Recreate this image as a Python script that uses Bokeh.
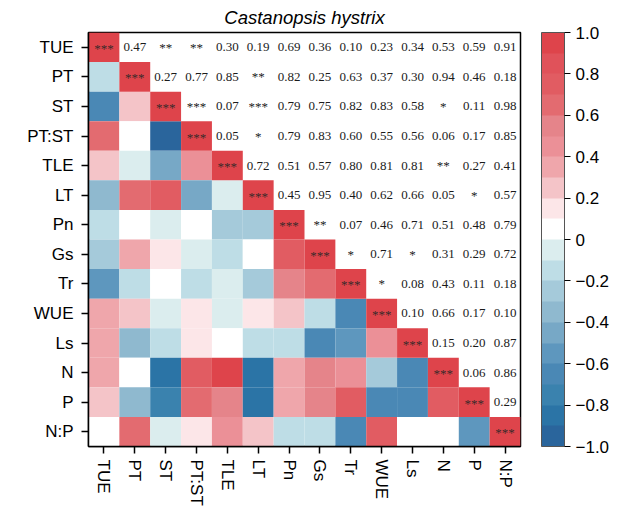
from bokeh.plotting import figure
from bokeh.models import ColumnDataSource, LinearColorMapper, ColorBar, FixedTicker, FactorRange, AllLabels
from bokeh.core.properties import value
from bokeh.embed import file_html
from bokeh.resources import INLINE

variables = ["TUE", "PT", "ST", "PT:ST", "TLE", "LT", "Pn", "Gs", "Tr", "WUE", "Ls", "N", "P", "N:P"]

# lower triangle correlation coefficients (row i, columns 0..i-1)
r_lower = [
    [],
    [-0.15],
    [-0.65, 0.25],
    [0.65, 0.05, -0.95],
    [0.25, -0.05, -0.45, 0.45],
    [-0.35, 0.65, 0.75, -0.45, -0.05],
    [-0.15, 0.05, -0.05, 0.05, -0.25, -0.25],
    [-0.25, 0.35, 0.15, -0.05, -0.15, 0.05, 0.75],
    [-0.55, -0.15, 0.05, -0.15, -0.05, -0.25, 0.55, 0.65],
    [0.35, 0.25, -0.05, 0.15, -0.05, 0.15, 0.25, -0.15, -0.65],
    [0.35, -0.35, -0.15, 0.15, 0.05, -0.15, -0.15, -0.65, -0.55, 0.45],
    [0.35, 0.05, -0.85, 0.75, 0.95, -0.85, 0.35, 0.55, 0.45, -0.25, -0.65],
    [0.25, -0.35, -0.75, 0.65, 0.55, -0.85, 0.35, 0.55, 0.75, -0.65, -0.65, 0.75],
    [0.05, 0.65, -0.05, 0.15, 0.45, 0.25, -0.15, -0.15, -0.65, 0.75, 0.05, 0.05, -0.55],
]

# upper triangle significance labels (row i, columns i+1..13)
p_upper = [
    ["0.47", "**", "**", "0.30", "0.19", "0.69", "0.36", "0.10", "0.23", "0.34", "0.53", "0.59", "0.91"],
    ["0.27", "0.77", "0.85", "**", "0.82", "0.25", "0.63", "0.37", "0.30", "0.94", "0.46", "0.18"],
    ["***", "0.07", "***", "0.79", "0.75", "0.82", "0.83", "0.58", "*", "0.11", "0.98"],
    ["0.05", "*", "0.79", "0.83", "0.60", "0.55", "0.56", "0.06", "0.17", "0.85"],
    ["0.72", "0.51", "0.57", "0.80", "0.81", "0.81", "**", "0.27", "0.41"],
    ["0.45", "0.95", "0.40", "0.62", "0.66", "0.05", "*", "0.57"],
    ["**", "0.07", "0.46", "0.71", "0.51", "0.48", "0.79"],
    ["*", "0.71", "*", "0.31", "0.29", "0.72"],
    ["*", "0.08", "0.43", "0.11", "0.18"],
    ["0.10", "0.66", "0.17", "0.10"],
    ["0.15", "0.20", "0.87"],
    ["0.06", "0.86"],
    ["0.29"],
    [],
]

diag_label = "***"

palette = [
    "#2A659C", "#2B74A6", "#3A82AE", "#4A88B5", "#5E97BE", "#77A8C6", "#8FB9CF", "#A5CADA", "#BEDDE6", "#DBEDEE",
    "#FFFFFF", "#FCE6E8", "#F4C4C8", "#EFA6AB", "#EB9097", "#E5848A", "#E36B70", "#E15C62", "#E0525A", "#DE444B",
]

cb_ticks = [-1.0, -0.8, -0.6, -0.4, -0.2, 0.0, 0.2, 0.4, 0.6, 0.8, 1.0]
cb_labels = ["\u22121.0", "\u22120.8", "\u22120.6", "\u22120.4", "\u22120.2", "0", "0.2", "0.4", "0.6", "0.8", "1.0"]

# build sources
cx, cy, cr = [], [], []
for i, row in enumerate(r_lower):
    for j, r in enumerate(row):
        cx.append(variables[j]); cy.append(variables[i]); cr.append(r)
for i, v in enumerate(variables):
    cx.append(v); cy.append(v); cr.append(1.0)
cells = ColumnDataSource(dict(x=cx, y=cy, r=cr))

tx, ty, tt = [], [], []
for i, row in enumerate(p_upper):
    for k, t in enumerate(row):
        tx.append(variables[i + 1 + k]); ty.append(variables[i]); tt.append(t)
texts = ColumnDataSource(dict(x=tx, y=ty, t=tt))
diag = ColumnDataSource(dict(x=variables, y=variables, t=[diag_label] * len(variables)))

mapper = LinearColorMapper(palette=palette, low=-1, high=1)

p = figure(width=626, height=513, output_backend="svg", toolbar_location=None,
           x_range=FactorRange(factors=variables), y_range=FactorRange(factors=list(reversed(variables))),
           title="Castanopsis hystrix")
p.min_border_left = 88
p.min_border_top = 32
p.min_border_bottom = 67
p.min_border_right = 106

p.rect("x", "y", width=1, height=1, source=cells, fill_color={"field": "r", "transform": mapper}, line_color=None)
p.text("x", "y", text="t", source=texts, text_font=value("Liberation Serif"), text_font_size="13px",
       text_align="center", text_baseline="middle", text_color="#1a1a1a")
p.text("x", "y", text="t", source=diag, text_font=value("Liberation Serif"), text_font_size="13px",
       text_align="center", text_baseline="middle", text_color="#3a2a2a", y_offset=1)

p.grid.visible = False
p.outline_line_color = "black"
p.outline_line_width = 1.5
p.outline_line_alpha = 1.0
for ax in (p.xaxis[0], p.yaxis[0]):
    ax.axis_line_color = "black"
    ax.axis_line_width = 1.5
    ax.major_tick_line_color = "black"
    ax.major_tick_line_width = 1.5
    ax.major_tick_in = 0
    ax.major_tick_out = 7
    ax.major_label_text_font = "Liberation Sans"
    ax.major_label_text_font_size = "17px"
    ax.major_label_text_color = "black"
p.xaxis.major_label_standoff = 6
p.yaxis.major_label_standoff = 8
p.xaxis.major_label_orientation = "vertical"

p.title.align = "center"
p.title.text_font = "Liberation Sans"
p.title.text_font_style = "italic"
p.title.text_font_size = "18.5px"
p.title.text_color = "black"
p.title.standoff = 9

cb = ColorBar(color_mapper=mapper, ticker=FixedTicker(ticks=cb_ticks),
              major_label_overrides={t: l for t, l in zip(cb_ticks, cb_labels)},
              major_label_policy=AllLabels(),
              width=23, padding=0, margin=0, location=(21, 0),
              major_tick_in=0, major_tick_out=6, major_tick_line_color="black", major_tick_line_width=1,
              bar_line_color="#555555", bar_line_width=1, border_line_color=None,
              major_label_text_font="Liberation Sans", major_label_text_font_size="17px",
              major_label_text_color="black", label_standoff=5)
p.add_layout(cb, "right")

open("out.html", "w").write(file_html(p, INLINE))
